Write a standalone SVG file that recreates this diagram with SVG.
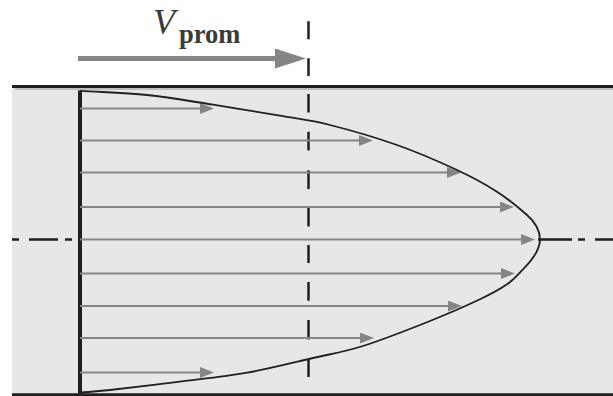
<svg xmlns="http://www.w3.org/2000/svg" width="613" height="396" viewBox="0 0 613 396">
<style>
.dark{stroke:#231f20;fill:none}
.shaft{stroke:#858585;stroke-width:2;fill:none}
.lbl{font-family:"Liberation Serif","Times New Roman",serif;fill:#3a3a3a}
</style>
<defs>
<marker id="ah" viewBox="0 0 14 11" refX="10" refY="5.5" markerWidth="14" markerHeight="11" markerUnits="userSpaceOnUse" orient="auto">
<path d="M0,0 L14,5.5 L0,11 Z" fill="#858585"/>
</marker>
<marker id="bigah" viewBox="0 0 31 20" refX="5" refY="10" markerWidth="31" markerHeight="20" markerUnits="userSpaceOnUse" orient="auto">
<path d="M0,0 L31,10 L0,20 Z" fill="#858585"/>
</marker>
</defs>
<rect width="613" height="396" fill="#ffffff"/>
<g id="pipe">
<rect x="12" y="86" width="601" height="309" fill="#e6e7e8"/>
<line x1="15" y1="89" x2="613" y2="89" stroke="#bdbdbd" stroke-width="2"/>
<line class="dark" x1="12" y1="86.5" x2="613" y2="86.5" stroke-width="3"/>
<line class="dark" x1="12" y1="394.7" x2="613" y2="394.7" stroke-width="3"/>
</g>
<g id="centerline" class="dark" stroke-width="2.5">
<path d="M12,239.5H19 M29,239.5H58 M65,239.5H72 M538,239.5H572 M578,239.5H585 M595,239.5H613"/>
</g>
<g id="wall">
<line class="dark" x1="80" y1="90.5" x2="80" y2="394" stroke-width="4"/>
</g>
<g id="average-line">
<path class="dark" stroke-width="2.5" d="M308.5,21.3V39.3 M308.5,58.3V76 M308.5,94V112.5 M308.5,131.7V150.5 M308.5,170.3V189 M308.5,208V226.5 M308.5,245V263 M308.5,282V300.7 M308.5,320V339.5 M308.5,359.3V377"/>
</g>
<g id="connectors">
<line class="shaft" x1="80" y1="108.5" x2="210" y2="108.5" marker-end="url(#ah)"/>
<line class="shaft" x1="80" y1="140.5" x2="369" y2="140.5" marker-end="url(#ah)"/>
<line class="shaft" x1="80" y1="172.5" x2="457" y2="172.5" marker-end="url(#ah)"/>
<line class="shaft" x1="80" y1="207" x2="510" y2="207" marker-end="url(#ah)"/>
<line class="shaft" x1="80" y1="239.5" x2="531" y2="239.5" marker-end="url(#ah)"/>
<line class="shaft" x1="80" y1="273.5" x2="511" y2="273.5" marker-end="url(#ah)"/>
<line class="shaft" x1="80" y1="306" x2="458" y2="306" marker-end="url(#ah)"/>
<line class="shaft" x1="80" y1="338" x2="370" y2="338" marker-end="url(#ah)"/>
<line class="shaft" x1="80" y1="372.5" x2="210" y2="372.5" marker-end="url(#ah)"/>
</g>
<g id="profile">
<path class="dark" stroke-width="1.8" d="M80,90.8 C102.3,92.2 124.8,92.7 147,95 C169.2,97.3 190.8,101.25 213,104.7 C235.2,108.15 260.5,112.3 280,115.7 C299.5,119.1 310.5,120.1 330,125 C349.5,129.9 375.8,137.5 397,145 C418.2,152.5 440.3,162.2 457,170 C473.7,177.8 485.3,184.2 497,191.7 C508.7,199.2 520.3,209.2 527,215 C534,221.1 540,228.5 540,239.5 C540,251 529,263.3 523,269.3 C518,274.35 514.2,279.3 507,284.3 C499.8,289.3 492.8,293.2 480,299.3 C467.2,305.4 449.5,313.2 430,321 C410.5,328.8 382.5,339.8 363,346 C343.5,352.2 332.3,353.55 313,358 C293.7,362.45 269.2,368.75 247,372.7 C224.8,376.65 202.8,378.8 180,381.7 C157.2,384.6 126.7,388.2 110,390 C93.3,391.8 90,391.8 80,392.7"/>
</g>
<g id="vprom">
<line x1="78" y1="58.5" x2="280" y2="58.5" stroke="#858585" stroke-width="5" marker-end="url(#bigah)"/>
<text class="lbl" x="153" y="33.5" font-size="36" font-style="italic">V</text>
<text class="lbl" x="179" y="43" font-size="26.5" font-weight="bold">prom</text>
</g>
</svg>
